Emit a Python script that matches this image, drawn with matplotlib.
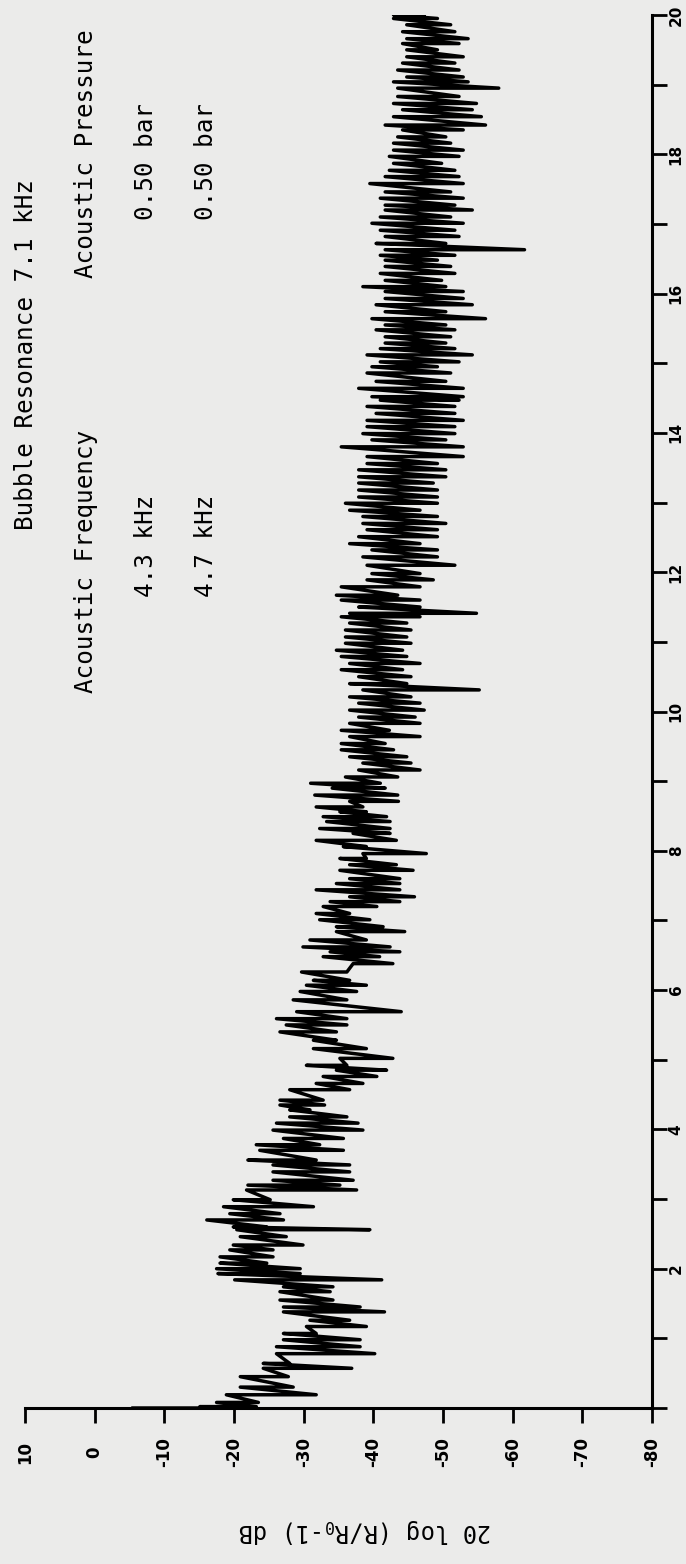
import numpy as np
import matplotlib.pyplot as plt

plt.rcParams['mathtext.fontset'] = 'custom'
plt.rcParams['mathtext.rm'] = 'DejaVu Sans Mono'
plt.rcParams['mathtext.it'] = 'DejaVu Sans Mono'

# trace: frequency (kHz) with the upper / lower excursion (dB)
freq_khz = [0.00, 0.02, 0.08, 0.19, 0.30, 0.45, 0.57, 0.64, 0.78, 0.88, 0.98, 1.07, 1.17, 1.26,
            1.38, 1.45, 1.55, 1.67, 1.74, 1.84, 1.93, 2.00, 2.08, 2.17, 2.27, 2.34, 2.46, 2.56,
            2.60, 2.70, 2.79, 2.89, 2.99, 3.13, 3.20, 3.27, 3.39, 3.49, 3.56, 3.70, 3.78, 3.87,
            3.99, 4.09, 4.18, 4.28, 4.35,
            4.42, 4.57, 4.66, 4.76, 4.85, 4.92, 5.02, 5.16, 5.28, 5.40, 5.50, 5.59, 5.69, 5.86,
            5.98, 6.07, 6.14, 6.26, 6.38, 6.48, 6.55, 6.62, 6.72, 6.84, 6.91, 7.01, 7.10, 7.20,
            7.27, 7.34, 7.44, 7.53, 7.60, 7.72, 7.80, 7.89, 7.96, 8.06, 8.15, 8.25, 8.32, 8.42,
            8.49, 8.56, 8.63, 8.71,
            8.80, 8.90, 8.97, 9.06, 9.16, 9.26, 9.35, 9.45, 9.54, 9.64, 9.73, 9.83, 9.92, 10.02,
            10.12, 10.21, 10.31, 10.40, 10.50, 10.60, 10.69, 10.79, 10.88, 10.98, 11.07, 11.17,
            11.27, 11.36, 11.41, 11.50, 11.60, 11.67, 11.79, 11.89, 11.98, 12.10, 12.22, 12.32,
            12.41, 12.51, 12.61, 12.70, 12.80, 12.89, 12.99, 13.08, 13.18, 13.28, 13.37, 13.47,
            13.56, 13.66, 13.80, 13.90, 13.99, 14.09, 14.18, 14.28, 14.38, 14.47,
            14.52, 14.64, 14.74, 14.86, 14.95, 15.02, 15.12, 15.21, 15.29, 15.38, 15.48, 15.55,
            15.64, 15.74, 15.84, 15.93, 16.03, 16.10, 16.19, 16.29, 16.39, 16.48, 16.55, 16.63,
            16.72, 16.82, 16.91, 17.01, 17.10, 17.20, 17.27, 17.37, 17.46, 17.58, 17.68, 17.77,
            17.87, 17.97, 18.06, 18.16, 18.25, 18.35, 18.42, 18.54, 18.64, 18.73, 18.83, 18.95,
            19.04, 19.11, 19.21, 19.31, 19.40, 19.50, 19.59, 19.66, 19.76, 19.86, 19.95, 20.00]

db_upper = [-5.5, -15.1, -17.5, -18.9, -20.9, -20.9, -24.2, -24.2, -26.1, -26.1, -27.1, -27.1, -30.4, -30.9,
            -27.1, -27.1, -26.6, -26.6, -27.1, -20.1, -17.7, -17.5, -18.0, -18.0, -19.4, -19.9, -20.9, -20.4,
            -19.9, -16.1, -19.4, -18.5, -19.9, -21.8, -22.0, -25.6, -25.6, -25.6, -22.0, -23.7, -23.2, -27.1,
            -25.6, -26.1, -28.0, -28.0, -26.6,
            -26.6, -28.0, -31.8, -32.8, -34.7, -30.4, -35.2, -31.4, -31.4, -26.6, -27.5, -26.1, -29.0, -28.5,
            -29.5, -30.4, -31.4, -29.7, -37.1, -32.8, -33.8, -29.9, -30.9, -34.7, -34.7, -32.3, -31.8, -32.8,
            -33.8, -36.6, -31.8, -34.7, -36.6, -35.2, -36.6, -35.2, -38.5, -35.7, -31.8, -37.1, -32.3, -33.3,
            -32.8, -35.2, -31.8, -36.6,
            -31.6, -34.1, -31.0, -36.0, -37.9, -38.5, -36.6, -35.4, -35.4, -36.6, -35.4, -36.6, -37.9, -36.6,
            -37.9, -36.6, -38.5, -36.6, -37.9, -35.4, -36.6, -35.4, -34.7, -36.0, -36.0, -36.0,
            -36.6, -35.4, -36.6, -37.9, -35.4, -34.7, -35.4, -39.1, -39.8, -39.1, -38.5, -39.8,
            -36.6, -37.9, -39.1, -38.5, -38.5, -36.6, -36.0, -37.9, -37.9, -37.9, -37.9, -37.9,
            -39.1, -39.1, -35.4, -39.8, -38.5, -39.1, -39.1, -40.4, -39.1, -41.0,
            -39.8, -37.9, -40.4, -39.1, -39.8, -41.0, -39.1, -41.0, -41.7, -41.7, -40.4, -41.7,
            -39.8, -41.7, -40.4, -41.7, -41.7, -38.5, -41.7, -41.0, -41.7, -41.7, -41.0, -41.7,
            -40.4, -41.7, -41.0, -39.8, -41.0, -41.7, -41.7, -41.0, -41.7, -39.5, -41.7, -42.3,
            -42.9, -42.3, -42.9, -42.9, -43.5, -44.2, -41.7, -42.9, -44.2, -42.9, -43.5, -43.5,
            -42.9, -44.8, -43.5, -44.2, -44.8, -44.8, -44.2, -44.8, -44.2, -44.8, -42.9, -42.9]

db_lower = [-16.0, -23.2, -23.5, -31.8, -28.5, -27.8, -36.9, -28.0, -40.2, -38.1, -38.1, -31.8, -39.0, -36.6,
            -41.6, -38.1, -34.2, -33.8, -34.2, -41.2, -29.5, -29.5, -24.7, -25.6, -25.6, -29.9, -27.5, -39.5,
            -24.7, -27.1, -26.6, -31.4, -25.2, -37.6, -35.2, -37.1, -36.6, -36.6, -31.8, -35.7, -32.3, -35.7,
            -38.5, -37.8, -36.2, -30.9, -33.0,
            -32.8, -36.6, -38.5, -40.5, -41.9, -36.2, -42.8, -39.0, -34.7, -34.7, -36.2, -36.2, -44.0, -36.2,
            -37.6, -39.0, -36.6, -36.2, -42.8, -40.9, -43.8, -42.4, -39.0, -44.5, -41.4, -39.5, -36.6, -40.5,
            -43.8, -45.9, -43.8, -43.8, -43.8, -45.7, -43.3, -39.0, -47.6, -39.0, -43.3, -42.4, -42.4, -42.4,
            -41.9, -39.0, -38.5, -43.6,
            -43.5, -41.7, -41.0, -43.5, -46.7, -45.4, -44.8, -42.9, -41.7, -46.7, -42.3, -46.7, -46.0, -47.3,
            -46.7, -45.4, -55.2, -44.8, -45.4, -44.2, -46.7, -44.8, -44.2, -45.4, -44.8, -45.4,
            -44.8, -46.7, -54.8, -46.7, -46.7, -43.5, -46.7, -48.6, -46.7, -51.7, -49.2, -49.2,
            -46.7, -49.2, -49.2, -50.4, -49.2, -46.7, -49.2, -49.2, -49.2, -48.6, -50.4, -50.4,
            -49.2, -52.9, -52.9, -50.4, -51.7, -51.7, -52.9, -51.7, -51.7, -52.3,
            -52.9, -52.9, -50.4, -51.1, -49.2, -52.3, -54.2, -51.7, -50.4, -51.1, -51.7, -50.4,
            -56.1, -50.4, -54.2, -52.9, -52.9, -50.4, -49.8, -51.7, -51.1, -49.2, -51.7, -61.7,
            -50.4, -52.3, -51.7, -52.9, -51.1, -54.2, -51.7, -52.9, -51.1, -52.9, -52.3, -51.7,
            -49.8, -52.3, -52.9, -51.1, -50.4, -52.9, -56.1, -55.5, -54.2, -54.8, -52.3, -58.0,
            -53.6, -52.9, -52.3, -51.7, -52.9, -49.2, -52.3, -53.6, -51.7, -51.1, -49.2, -47.3]

db_ticks = [10, 0, -10, -20, -30, -40, -50, -60, -70, -80]
khz_ticks = list(range(0, 21))
khz_labels = [str(k) if k % 2 == 0 and k > 0 else '' for k in khz_ticks]

header = 'Bubble Resonance 7.1 kHz'
col_titles = ['Acoustic Frequency', 'Acoustic Pressure']
run_freqs = ['4.3 kHz', '4.7 kHz']
run_press = ['0.50 bar', '0.50 bar']

assert len(freq_khz) == len(db_upper) == len(db_lower)

# zig-zag between upper and lower excursion at each frequency
f = np.repeat(freq_khz, 2)
db = np.column_stack((db_upper, db_lower)).ravel()

W, H = 686, 1564
bg = '#ebebea'
fig = plt.figure(figsize=(W / 100, H / 100), dpi=100, facecolor=bg)
ax = fig.add_axes([25 / W, (H - 1408) / H, 627 / W, 1393 / H])
ax.set_facecolor('none')

ax.plot(db, f, color='black', lw=2.5)

ax.set_xlim(10, -80)
ax.set_ylim(0, 20)
for s in ['top', 'left']:
    ax.spines[s].set_visible(False)
for s in ['bottom', 'right']:
    ax.spines[s].set_linewidth(2.2)

ax.set_xticks(db_ticks)
ax.set_xticklabels([str(d) for d in db_ticks], rotation=90, va='center',
                   fontsize=12, fontweight='bold')
ax.tick_params(axis='x', direction='out', length=11, width=2, pad=21)

ax.yaxis.tick_right()
ax.set_yticks(khz_ticks)
ax.set_yticklabels(khz_labels, rotation=90, va='center', fontsize=11, fontweight='bold')
ax.tick_params(axis='y', direction='out', length=11, width=2, pad=1)

mono = dict(family='DejaVu Sans Mono', fontsize=17.5, rotation=90,
            rotation_mode='anchor', ha='left', va='baseline')


def put(x, y, s):
    fig.text(x / W, 1 - y / H, s, **mono)


put(33, 530, header)
put(93, 693, col_titles[0])
put(93, 278, col_titles[1])
put(153, 597, run_freqs[0])
put(213, 597, run_freqs[1])
put(153, 220, run_press[0])
put(213, 220, run_press[1])

fig.text(365 / W, 1 - 1531 / H, r'20 log (R/R$_0$-1) dB', family='DejaVu Sans Mono',
         fontsize=17, rotation=180, ha='center', va='center')

fig.savefig('out.png', dpi=100, facecolor=bg)
